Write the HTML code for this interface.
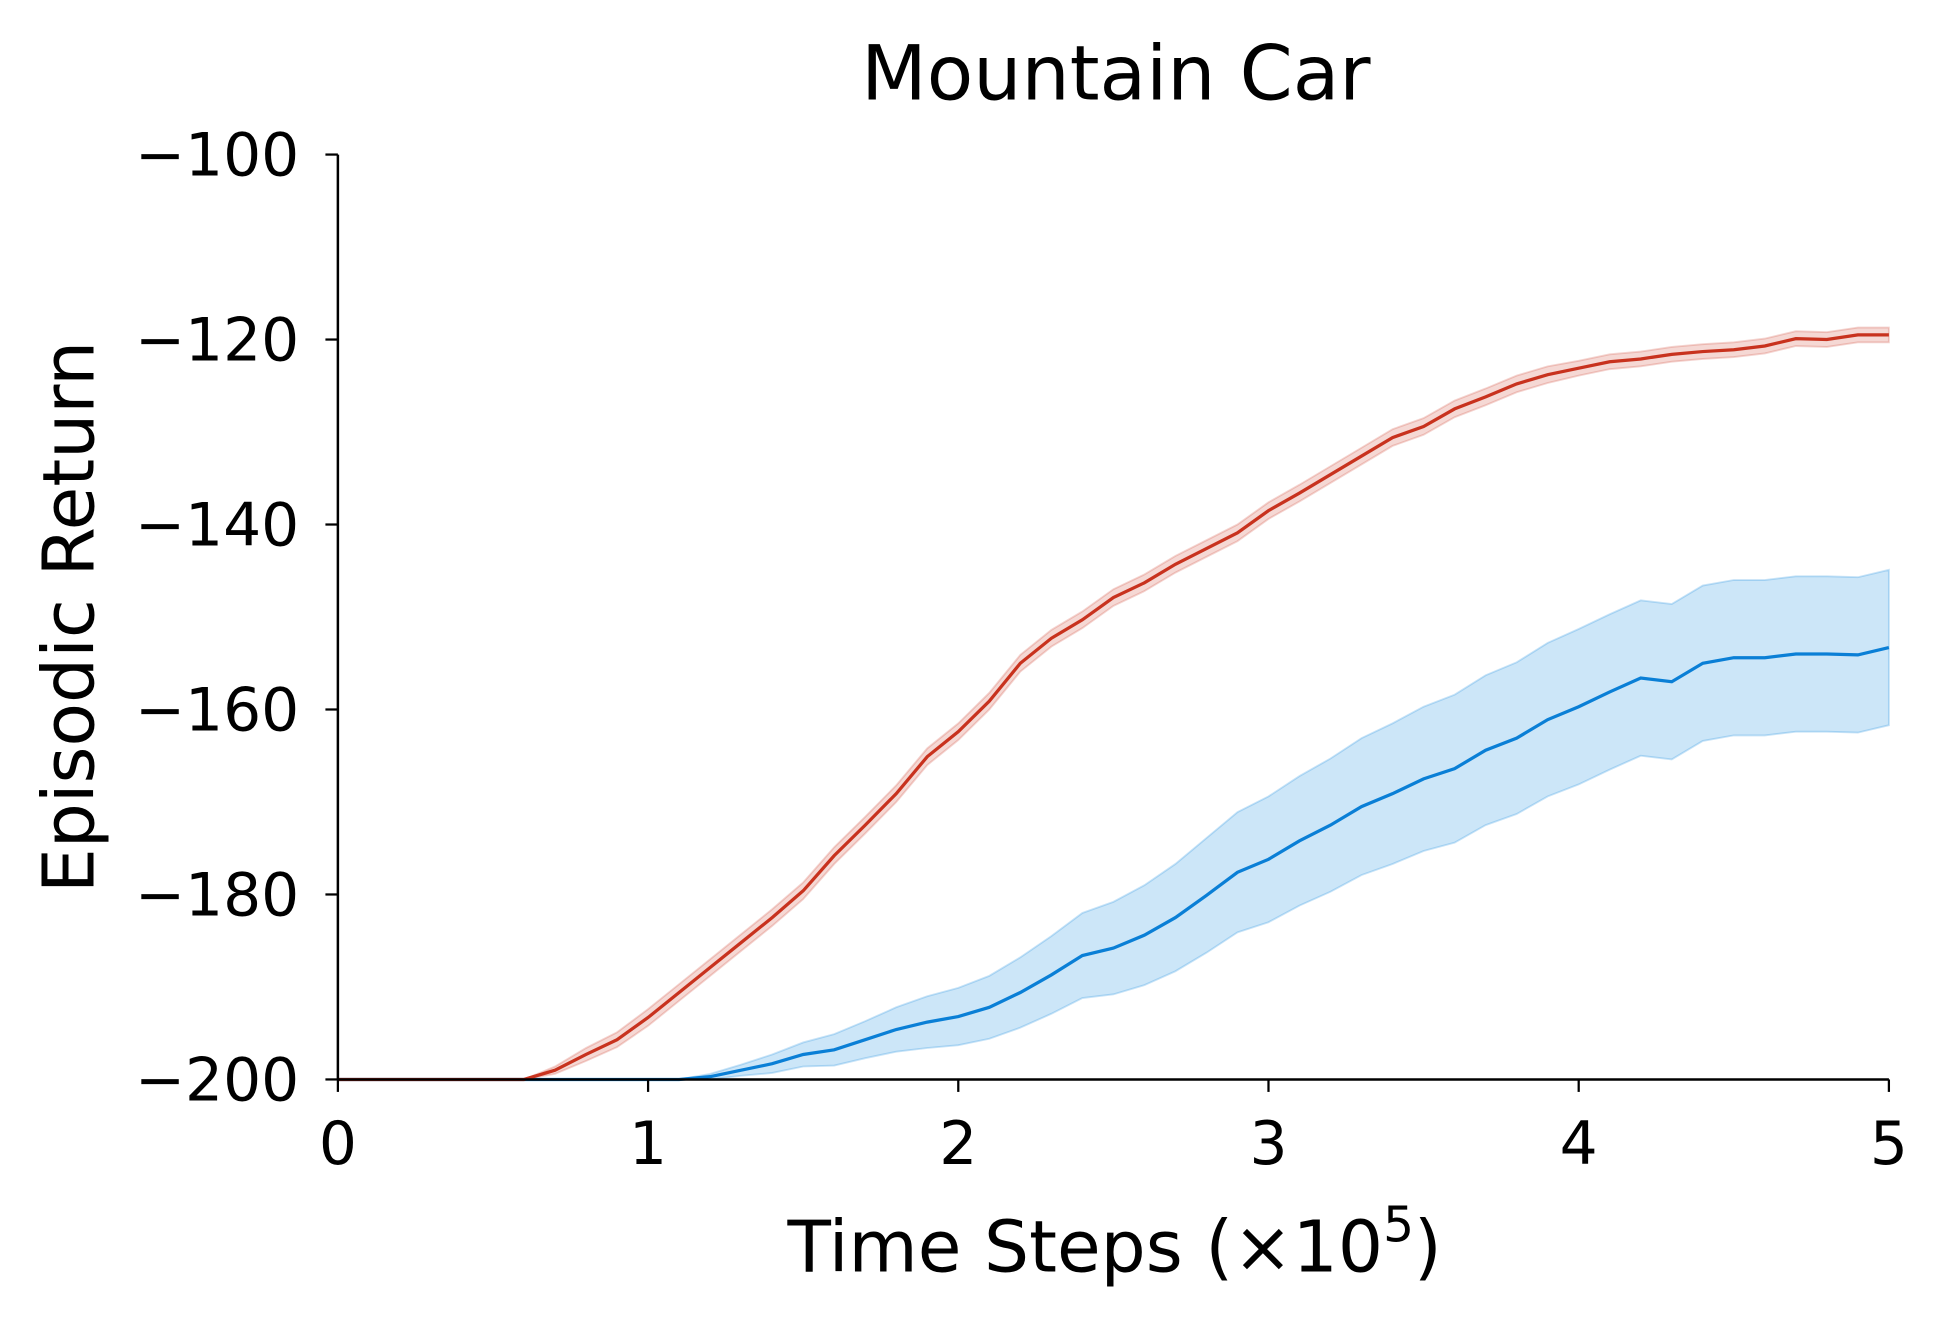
<!DOCTYPE html>
<html><head><meta charset="utf-8"><style>
html,body{margin:0;padding:0;background:#fff;width:1945px;height:1325px;overflow:hidden}
svg{display:block}
text{font-family:"DejaVu Sans","Liberation Sans",sans-serif;fill:#000}
</style></head><body>
<svg id="chart" width="1945" height="1325" viewBox="0 0 1560 1063" preserveAspectRatio="none" xmlns="http://www.w3.org/2000/svg">
<g id="plot"></g>
<g id="axes"></g>
<text x="895" y="80" font-size="61" text-anchor="middle">Mountain Car</text>
<text x="894" y="1020" font-size="57" text-anchor="middle">Time Steps (×10<tspan dy="-24" font-size="39">5</tspan><tspan dy="24">)</tspan></text>
<text transform="translate(75,495) rotate(-90)" font-size="57" text-anchor="middle">Episodic Return</text>
</svg>
<script>
const steps = [0,0.1,0.2,0.3,0.4,0.5,0.6,0.7,0.8,0.9,1.0,1.1,1.2,1.3,1.4,1.5,1.6,1.7,1.8,1.9,2.0,2.1,2.2,2.3,2.4,2.5,2.6,2.7,2.8,2.9,3.0,3.1,3.2,3.3,3.4,3.5,3.6,3.7,3.8,3.9,4.0,4.1,4.2,4.3,4.4,4.5,4.6,4.7,4.8,4.9,5.0];
const redMean = [-200,-200,-200,-200,-200,-200,-200,-199,-197.3,-195.7,-193.3,-190.6,-187.9,-185.2,-182.5,-179.6,-175.8,-172.5,-169.1,-165.1,-162.4,-159.1,-155,-152.3,-150.3,-147.9,-146.3,-144.3,-142.6,-140.9,-138.5,-136.6,-134.6,-132.6,-130.6,-129.4,-127.5,-126.2,-124.8,-123.8,-123.1,-122.4,-122.1,-121.6,-121.3,-121.1,-120.7,-119.9,-120,-119.5,-119.5];
const redErr = [0,0,0,0,0,0,0,0.4,0.7,0.8,0.9,0.9,0.9,0.9,0.9,0.9,0.9,0.9,0.9,0.9,0.9,0.9,0.9,0.9,0.9,0.9,0.9,0.9,0.9,0.9,0.9,0.9,0.9,0.9,0.9,0.9,0.9,0.9,0.9,0.9,0.8,0.8,0.8,0.8,0.8,0.8,0.8,0.8,0.8,0.8,0.8];
const blueMean = [-200,-200,-200,-200,-200,-200,-200,-200,-200,-200,-200,-200,-199.7,-199,-198.3,-197.3,-196.8,-195.7,-194.6,-193.8,-193.2,-192.2,-190.6,-188.7,-186.6,-185.8,-184.4,-182.5,-180.1,-177.6,-176.2,-174.2,-172.5,-170.5,-169.1,-167.5,-166.4,-164.4,-163.1,-161.1,-159.7,-158.1,-156.6,-157,-155,-154.4,-154.4,-154,-154,-154.1,-153.3];
const blueErr = [0,0,0,0,0,0,0,0,0,0,0,0,0.3,0.6,1,1.3,1.7,2,2.4,2.8,3.1,3.4,3.8,4.2,4.6,5,5.4,5.8,6.2,6.5,6.8,7,7.2,7.4,7.6,7.8,8,8.1,8.2,8.3,8.4,8.4,8.4,8.4,8.4,8.4,8.4,8.4,8.4,8.4,8.4];
const xTicks = [0,1,2,3,4,5];
const yTicks = [-200,-180,-160,-140,-120,-100];

const X0=271,X1=1515,Y0=866,Y1=124;
const sx=v=>X0+(v-0)/(5-0)*(X1-X0);
const sy=v=>Y0-(v+200)/100*(Y0-Y1);
const NS='http://www.w3.org/2000/svg';
const plot=document.getElementById('plot'), axes=document.getElementById('axes');
function mk(tag,attrs,parent){const e=document.createElementNS(NS,tag);for(const k in attrs)e.setAttribute(k,attrs[k]);parent.appendChild(e);return e;}
function band(mean,err,fill,stroke,name){
  let up=steps.map((t,i)=>sx(t)+','+sy(Math.min(-100,mean[i]+err[i])));
  let lo=steps.map((t,i)=>sx(t)+','+sy(Math.max(-200,mean[i]-err[i]))).reverse();
  const p=mk('polygon',{points:up.concat(lo).join(' '),fill:fill,stroke:stroke,'stroke-width':1.5},plot);
  
  
}
function line(mean,color,name){
  const p=mk('polyline',{points:steps.map((t,i)=>sx(t)+','+sy(mean[i])).join(' '),fill:'none',stroke:color,'stroke-width':2.6},plot);
  
  
}
band(blueMean,blueErr,'rgba(0,128,220,0.2)','rgba(0,128,220,0.22)','blue-confidence-band');
band(redMean,redErr,'rgba(205,60,40,0.2)','rgba(205,60,40,0.22)','red-confidence-band');
line(blueMean,'#0a7fd6','blue-mean-line');
line(redMean,'#c8321e','red-mean-line');
const ya=mk('line',{x1:X0,y1:Y1,x2:X0,y2:Y0,stroke:'#000','stroke-width':2},axes);


const xa=mk('line',{x1:X0,y1:Y0,x2:X1,y2:Y0,stroke:'#000','stroke-width':2},axes);


xTicks.forEach(t=>{
  const l=mk('line',{x1:sx(t),y1:Y0,x2:sx(t),y2:Y0+10,stroke:'#000','stroke-width':1.8},axes);
  
  
  const tx=mk('text',{x:sx(t),y:Y0+68,'font-size':48,'text-anchor':'middle'},axes);
  tx.textContent=t;
  
  
});
yTicks.forEach(v=>{
  const l=mk('line',{x1:X0-10,y1:sy(v),x2:X0,y2:sy(v),stroke:'#000','stroke-width':1.8},axes);
  
  
  const tx=mk('text',{x:X0-31,y:sy(v)+17,'font-size':48,'text-anchor':'end'},axes);
  tx.textContent=String(v).replace('-','\u2212');
  
  
});
</script>
</body></html>
